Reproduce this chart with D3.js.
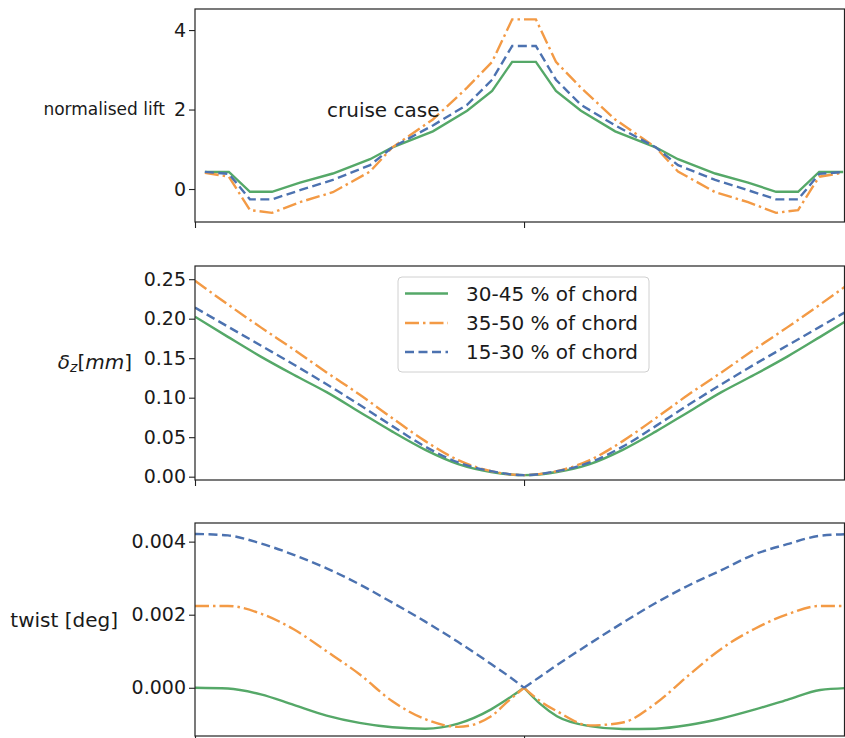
<!DOCTYPE html>
<html><head><meta charset="utf-8">
<script src="https://cdn.jsdelivr.net/npm/d3@7"></script>
<style>body{margin:0;background:#fff}svg{display:block}text{font-family:"DejaVu Sans",sans-serif;fill:#1a1a1a}</style>
</head><body><svg id="c" width="845" height="738"></svg>
<script>
// ---------- data ----------
const seriesNames = ["30-45 % of chord", "35-50 % of chord", "15-30 % of chord"];
const seriesColors = ["#55a868", "#f39a45", "#4c72b0"];

// panel 1: normalised lift
const liftX = [-0.970,-0.897,-0.833,-0.766,-0.681,-0.581,-0.468,-0.400,-0.277,-0.173,-0.097,-0.036,0.036,0.097,0.173,0.277,0.400,0.468,0.581,0.681,0.766,0.833,0.897,0.970];
const liftGreen  = [0.43,0.43,-0.07,-0.07,0.16,0.39,0.75,1.05,1.45,1.97,2.47,3.20,3.20,2.47,1.97,1.45,1.05,0.75,0.39,0.16,-0.07,-0.07,0.43,0.43];
const liftOrange = [0.41,0.31,-0.53,-0.60,-0.33,-0.08,0.44,1.05,1.75,2.55,3.20,4.27,4.27,3.20,2.55,1.75,1.05,0.44,-0.08,-0.33,-0.60,-0.53,0.31,0.41];
const liftBlue   = [0.43,0.38,-0.26,-0.26,-0.03,0.23,0.60,1.05,1.60,2.12,2.75,3.60,3.60,2.75,2.12,1.60,1.05,0.60,0.23,-0.03,-0.26,-0.26,0.38,0.43];
const liftTicks = [0, 2, 4];

// panel 2: deflection
const dzX = [-1,-0.9,-0.8,-0.7,-0.6,-0.5,-0.4,-0.3,-0.2,-0.1,0,0.1,0.2,0.3,0.4,0.5,0.6,0.7,0.8,0.9,1];
const dzGreen  = [0.2025,0.177,0.152,0.129,0.107,0.082,0.057,0.034,0.016,0.006,0.002,0.006,0.016,0.034,0.057,0.082,0.107,0.129,0.152,0.177,0.2025];
const dzOrange = [0.248,0.218,0.189,0.161,0.132,0.104,0.074,0.045,0.021,0.007,0.002,0.007,0.021,0.045,0.074,0.104,0.132,0.161,0.189,0.218,0.248];
const dzBlue   = [0.214,0.190,0.166,0.142,0.117,0.091,0.064,0.038,0.018,0.007,0.002,0.007,0.018,0.038,0.064,0.091,0.117,0.142,0.166,0.190,0.214];
const dzTicks = [0, 0.05, 0.10, 0.15, 0.20, 0.25];

// panel 3: twist
const twX = [-1,-0.9,-0.8,-0.7,-0.6,-0.5,-0.4,-0.3,-0.2,-0.1,-0.05,0,0.05,0.1,0.2,0.3,0.4,0.5,0.6,0.7,0.8,0.9,1];
const twGreen  = [0,-0.00002,-0.00018,-0.00047,-0.00076,-0.00096,-0.00108,-0.00112,-0.00098,-0.00059,-0.00031,0,-0.00045,-0.00078,-0.00105,-0.00113,-0.00112,-0.00102,-0.00084,-0.00060,-0.00033,-0.00006,0];
const twOrange = [0.00224,0.00224,0.00203,0.00160,0.00100,0.00037,-0.00037,-0.00086,-0.00107,-0.00078,-0.00038,0,-0.00037,-0.00064,-0.00103,-0.00095,-0.00043,0.00034,0.00107,0.00161,0.00201,0.00224,0.00224];
const twBlue   = [0.00421,0.00417,0.00395,0.00364,0.00327,0.00283,0.00233,0.00181,0.00125,0.00065,0.00034,0,0.00031,0.00062,0.00121,0.00178,0.00232,0.00280,0.00322,0.00365,0.00393,0.00416,0.00421];
const twTicks = [0, 0.002, 0.004];

const xTicks = [-1, 0];

// ---------- layout ----------
const svg = d3.select("#c");
const X0 = 195, X1 = 844.5;
const x = d3.scaleLinear().domain([-1, 0.974]).range([X0, X1]);
const dashes = [null, "14,4,2.5,4", "9,4.5"];

const panels = [
  {top: 9, bottom: 222, domain: [-0.83, 4.53], ticks: liftTicks, fmt: d3.format("d"),
   xs: liftX, ys: [liftGreen, liftOrange, liftBlue], curve: d3.curveLinear, split: false},
  {top: 266, bottom: 480, domain: [-0.0042, 0.2667], ticks: dzTicks, fmt: d3.format(".2f"),
   xs: dzX, ys: [dzGreen, dzOrange, dzBlue], curve: d3.curveMonotoneX, split: false},
  {top: 523, bottom: 736, domain: [-0.00132, 0.00451], ticks: twTicks, fmt: d3.format(".3f"),
   xs: twX, ys: [twGreen, twOrange, twBlue], curve: d3.curveMonotoneX, split: true}
];

panels.forEach((p, pi) => {
  const y = d3.scaleLinear().domain(p.domain).range([p.bottom, p.top]);
  const g = svg.append("g");
  const cid = "clip" + pi;
  svg.append("clipPath").attr("id", cid).append("rect")
    .attr("x", X0).attr("y", p.top).attr("width", X1 - X0).attr("height", p.bottom - p.top);
  const lg = g.append("g").attr("clip-path", `url(#${cid})`);
  const line = d3.line().x(d => x(d[0])).y(d => y(d[1])).curve(p.curve);
  p.ys.forEach((vals, si) => {
    const pts = p.xs.map((xx, i) => [xx, vals[i]]);
    const parts = p.split ? [pts.filter(d => d[0] <= 0), pts.filter(d => d[0] >= 0)] : [pts];
    parts.forEach(part => {
      lg.append("path").attr("d", line(part)).attr("fill", "none")
        .attr("stroke", seriesColors[si]).attr("stroke-width", 2.4)
        .attr("stroke-dasharray", dashes[si]);
    });
  });
  // axes
  const ya = g.append("g").attr("transform", `translate(${X0},0)`)
    .call(d3.axisLeft(y).tickValues(p.ticks).tickFormat(p.fmt).tickSize(6).tickPadding(3));
  ya.select(".domain").remove();
  ya.selectAll("line").attr("stroke", "#222").attr("stroke-width", 1.1);
  ya.selectAll("text").style("font-size", "19px").attr("fill", "#1a1a1a");
  const xa = g.append("g").attr("transform", `translate(0,${p.bottom})`)
    .call(d3.axisBottom(x).tickValues(xTicks).tickFormat("").tickSize(6));
  xa.select(".domain").remove();
  xa.selectAll("line").attr("stroke", "#222").attr("stroke-width", 1.1);
  g.append("rect").attr("x", X0).attr("y", p.top).attr("width", X1 - X0).attr("height", p.bottom - p.top)
    .attr("fill", "none").attr("stroke", "#222").attr("stroke-width", 1.2);
});

// y labels
svg.append("text").attr("x", 165).attr("y", 109).attr("text-anchor", "end")
  .attr("dominant-baseline", "central").style("font-size", "17px").text("normalised lift");
const dz = svg.append("text").attr("x", 132).attr("y", 362).attr("text-anchor", "end")
  .attr("dominant-baseline", "central").style("font-size", "20px");
dz.append("tspan").style("font-style", "italic").text("δ");
dz.append("tspan").style("font-style", "italic").style("font-size", "14px").attr("dy", 5).text("z");
dz.append("tspan").attr("dy", -5).text("[");
dz.append("tspan").style("font-style", "italic").text("mm");
dz.append("tspan").text("]");
svg.append("text").attr("x", 118).attr("y", 620).attr("text-anchor", "end")
  .attr("dominant-baseline", "central").style("font-size", "20px").text("twist [deg]");

// annotation
svg.append("text").attr("x", 327).attr("y", 110).attr("dominant-baseline", "central")
  .style("font-size", "20px").text("cruise case");

// legend
const leg = svg.append("g");
leg.append("rect").attr("x", 398).attr("y", 277).attr("width", 251).attr("height", 95).attr("rx", 4)
  .attr("fill", "#fff").attr("fill-opacity", 0.85).attr("stroke", "#d0d0d0").attr("stroke-width", 1);
const legY = [293.5, 323, 352];
seriesNames.forEach((n, i) => {
  leg.append("line").attr("x1", 405).attr("x2", 448).attr("y1", legY[i]).attr("y2", legY[i])
    .attr("stroke", seriesColors[i]).attr("stroke-width", 2.4).attr("stroke-dasharray", dashes[i]);
  leg.append("text").attr("x", 466).attr("y", legY[i]).attr("dominant-baseline", "central")
    .style("font-size", "20px").text(n);
});
</script></body></html>
